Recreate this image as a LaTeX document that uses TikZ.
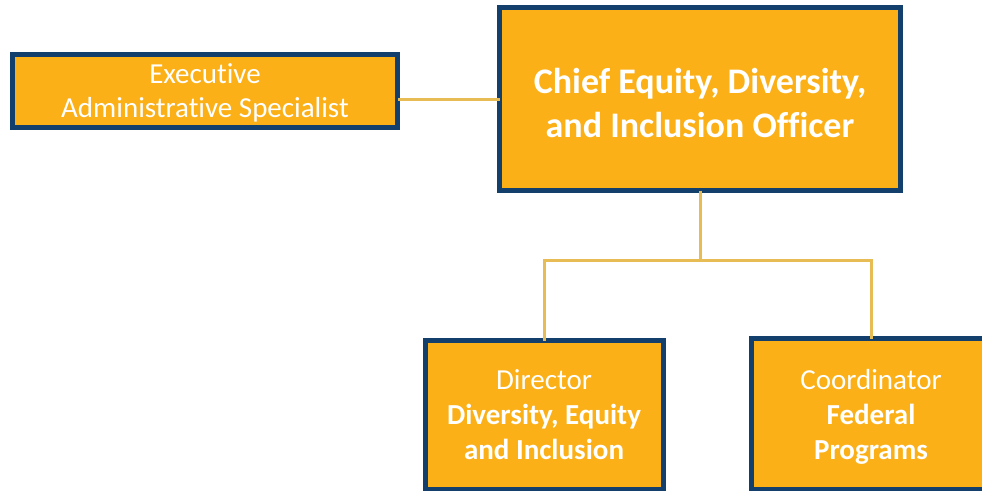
\documentclass[tikz,border=0pt]{standalone}
\usepackage{fontspec}
\setmainfont{Carlito}[Ligatures=CommonOff]
\usepackage{tikz}
\usetikzlibrary{calc}
\definecolor{boxgold}{HTML}{FBB017}
\definecolor{boxnavy}{HTML}{123F6C}
\definecolor{linegold}{HTML}{E8BC55}

\begin{document}
\begin{tikzpicture}[x=1pt,y=-1pt,line width=3pt,
  office node/.style={draw=boxnavy,line width=5pt,fill=boxgold,text=white,align=center,inner sep=0pt,outer sep=0pt,font=\fontsize{29}{34}\selectfont},
  link/.style={draw=linegold,line width=3pt}]

	\useasboundingbox (0,0) rectangle (982,490);

	\node[office node,text depth=0pt,minimum width=385pt,minimum height=73pt] (EAS) at (205,91) {Executive\\Administrative Specialist};
	\node[office node,text height=77pt,text depth=0pt,minimum width=401pt,minimum height=183pt,font=\fontsize{36}{44}\selectfont\bfseries] (CDO) at (700,99) {Chief Equity, Diversity,\\and Inclusion Officer};
	\node[office node,text depth=0pt,minimum width=238pt,minimum height=149pt,font=\fontsize{29}{35}\selectfont] (DIR) at (544,415) {Director\\\textbf{Diversity, Equity}\\\textbf{and Inclusion}};
	\node[office node,text depth=0pt,minimum width=239pt,minimum height=151pt,font=\fontsize{29}{35}\selectfont] (FED) at (871,414) {Coordinator\\\textbf{Federal}\\\textbf{Programs}};

	\coordinate (split) at ($(CDO.south)+(0,70)$);

	\path[link] (CDO.west) -- (CDO.west -| EAS.east);
	\path[link] (CDO.south) -- (split);
	\path[link] (DIR.north) |- (split) -| (FED.north);

\end{tikzpicture}
\end{document}
